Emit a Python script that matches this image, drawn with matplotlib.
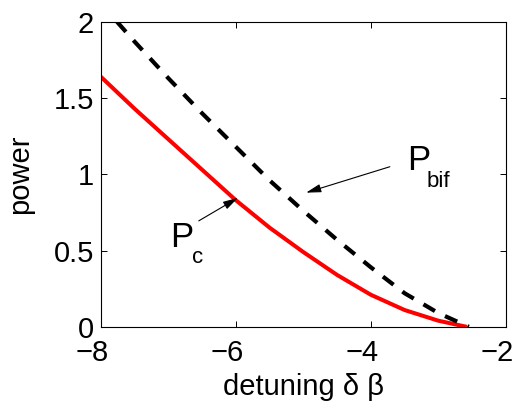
import matplotlib.pyplot as plt
from matplotlib.transforms import ScaledTranslation

plt.rcParams['font.family'] = ['Liberation Sans', 'DejaVu Sans']

# P_c curve (red, solid)
pc_x = [-8.0, -7.5, -7.0, -6.5, -6.0, -5.5, -5.0, -4.5, -4.0, -3.5, -3.0, -2.58]
pc_y = [1.64, 1.43, 1.23, 1.03, 0.83, 0.65, 0.49, 0.34, 0.21, 0.11, 0.04, 0.0]

# P_bif curve (black, dashed)
pbif_x = [-7.76, -7.5, -7.0, -6.5, -6.0, -5.5, -5.0, -4.5, -4.0, -3.5, -3.0, -2.55]
pbif_y = [2.0, 1.87, 1.63, 1.40, 1.18, 0.96, 0.76, 0.57, 0.39, 0.22, 0.09, 0.0]

xticks = [-8, -6, -4, -2]
xtick_labels = ['\u22128', '\u22126', '\u22124', '\u22122']
yticks = [0, 0.5, 1, 1.5, 2]
ytick_labels = ['0', '0.5', '1', '1.5', '2']

fig = plt.figure(figsize=(5.2, 4.05), dpi=100)
ax = fig.add_axes([0.194, 0.193, 0.779, 0.753])

ax.plot(pc_x, pc_y, color='#ff0000', lw=2.9, solid_capstyle='butt')
ax.plot(pbif_x, pbif_y, color='black', lw=3.0, dashes=(3.2, 2.7), dash_capstyle='butt')

ax.set_xlim(-8, -2)
ax.set_ylim(0, 2)
ax.set_xticks(xticks)
ax.set_xticklabels(xtick_labels)
ax.set_yticks(yticks)
ax.set_yticklabels(ytick_labels)
ax.tick_params(direction='in', length=4, width=0.7, labelsize=21,
               top=True, right=True)
ax.tick_params(axis='x', pad=9)
ax.tick_params(axis='y', pad=5)
for s in ax.spines.values():
    s.set_linewidth(0.8)

# matlab-style labels sit a little left of their ticks
shift = ScaledTranslation(-9 / 100, 0, fig.dpi_scale_trans)
for lab in ax.get_xticklabels():
    lab.set_transform(lab.get_transform() + shift)

ax.set_xlabel('detuning \u03b4 \u03b2', fontsize=21, labelpad=4)
ax.set_ylabel('power', fontsize=21, labelpad=14)

# annotations
arrow = dict(arrowstyle='-|>,head_length=0.9,head_width=0.25', color='black', lw=0.8,
             shrinkA=0, shrinkB=0)
ax.annotate('', xy=(-5.97, 0.846), xytext=(-6.55, 0.695), arrowprops=arrow)
ax.annotate('', xy=(-4.96, 0.88), xytext=(-3.72, 1.05), arrowprops=arrow)

ax.text(-6.98, 0.525, 'P', fontsize=25, va='baseline', ha='left')
ax.text(-6.65, 0.42, 'c', fontsize=16, va='baseline', ha='left')
ax.text(-3.47, 1.03, 'P', fontsize=25, va='baseline', ha='left')
ax.text(-3.17, 0.92, 'bif', fontsize=16, va='baseline', ha='left')

fig.savefig('out.png', dpi=100)
